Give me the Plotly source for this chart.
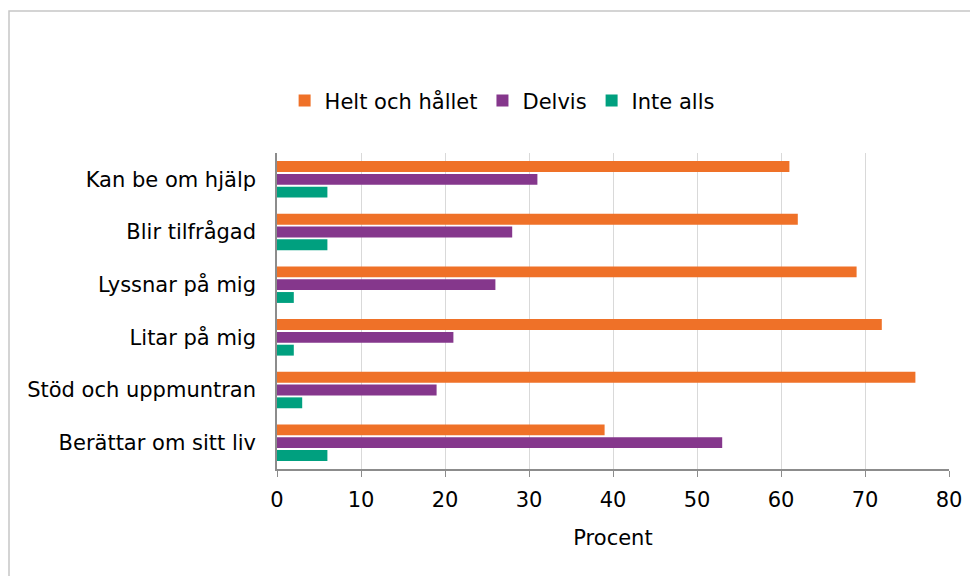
import plotly.graph_objects as go

categories = [
    "Kan be om hjälp",
    "Blir tilfrågad",
    "Lyssnar på mig",
    "Litar på mig",
    "Stöd och uppmuntran",
    "Berättar om sitt liv",
]
helt = [61, 62, 69, 72, 76, 39]
delvis = [31, 28, 26, 21, 19, 53]
inte = [6, 6, 2, 2, 3, 6]
x_ticks = [0, 10, 20, 30, 40, 50, 60, 70, 80]

FONT = "'DejaVu Sans', sans-serif"

fig = go.Figure()
for name, values, color in [
    ("Helt och hållet", helt, "#EF7128"),
    ("Delvis", delvis, "#85378C"),
    ("Inte alls", inte, "#00A07F"),
]:
    fig.add_trace(go.Bar(
        y=categories, x=values, name=name, orientation="h",
        marker=dict(color=color, line=dict(width=0)),
    ))

# page body has an 8px margin, so everything is laid out 8px up/left
fig.update_layout(
    width=978, height=576,
    barmode="group", bargap=0.27, bargroupgap=0.15,
    paper_bgcolor="white", plot_bgcolor="white",
    font=dict(family=FONT, size=21, color="#000000"),
    margin=dict(l=269, r=37, t=145, b=115),
    showlegend=True,
    legend=dict(
        orientation="h", x=0.335, xanchor="center", y=1.165, yanchor="middle",
        font=dict(size=21), traceorder="normal", itemwidth=30,
    ),
    shapes=[dict(
        type="rect", xref="paper", yref="paper",
        x0=-0.3988, x1=1.1, y0=-0.5, y1=1.449,
        line=dict(color="#c6c6c6", width=1.5), layer="below",
    )],
)
fig.update_xaxes(
    range=[0, 80], tickvals=x_ticks, showgrid=True, gridcolor="#d9d9d9",
    showline=True, linecolor="#8c8c8c", linewidth=1.5,
    ticks="outside", ticklen=6, tickcolor="#8c8c8c",
    ticklabelstandoff=5, zeroline=False,
    title=dict(text="Procent", standoff=19, font=dict(size=21)),
)
fig.update_yaxes(
    autorange="reversed", showline=True, linecolor="#8c8c8c", linewidth=1.5,
    ticks="", ticklabelstandoff=15, showgrid=False,
)

fig.write_html("out.html")
